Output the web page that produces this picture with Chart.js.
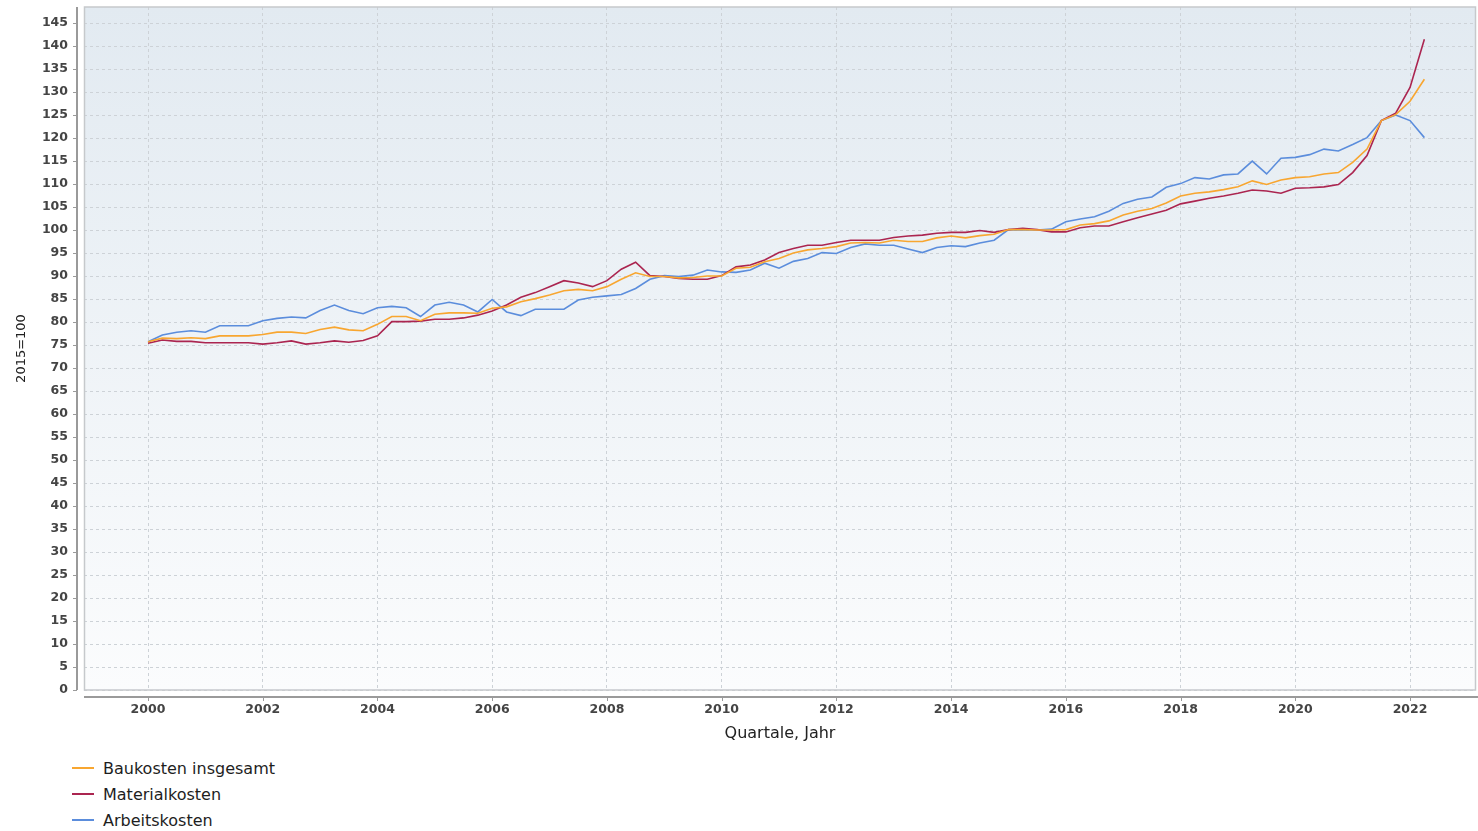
<!DOCTYPE html>
<html lang="de">
<head>
<meta charset="utf-8">
<title>Baukostenindex</title>
<script src="https://cdn.jsdelivr.net/npm/chart.js@4.4.1/dist/chart.umd.min.js"></script>
<style>
    html, body { margin: 0; padding: 0; background: #fff; }
    #wrap { position: relative; width: 1478px; height: 831px; }
    #chart { position: absolute; left: 0; top: 0; }
    #legend { position: absolute; left: 72px; top: 755px; font: 16px 'DejaVu Sans', sans-serif; color: #1e1e1e; }
    .item { height: 26px; display: flex; align-items: center; }
    .swatch { width: 22px; height: 2px; margin-right: 9px; }
</style>
</head>
<body>
<div id="wrap">
    <canvas id="chart" width="1478" height="755"></canvas>
    <div id="legend"></div>
</div>
<script>
// quarterly values, 2000 Q1 .. 2022 Q2, index 2015 = 100
const firstYear = 2000;

const baukosten = [
    75.7, 76.5, 76.4, 76.6, 76.4, 77.0, 77.0, 77.0, 77.3, 77.8, 77.8, 77.5, 78.4, 78.9, 78.3, 78.1,
    79.5, 81.2, 81.2, 80.3, 81.7, 82.0, 82.0, 81.9, 83.0, 83.3, 84.4, 85.1, 85.9, 86.8, 87.1,
    86.8, 87.7, 89.3, 90.7, 89.9, 89.9, 89.6, 89.7, 90.0, 90.0, 91.7, 91.9, 93.1, 93.8, 95.0,
    95.7, 96.0, 96.4, 97.2, 97.3, 97.2, 97.8, 97.5, 97.5, 98.3, 98.7, 98.3, 98.8, 99.1,
    100.1, 100.1, 100.0, 100.0, 100.1, 101.1, 101.4, 102.0, 103.3, 104.1, 104.7, 105.9, 107.4, 108.0, 108.3,
    108.8, 109.4, 110.7, 109.9, 110.9, 111.4, 111.6, 112.2, 112.5, 114.7, 117.6, 123.8, 125.1, 128.0, 132.8
];

const materialkosten = [
    75.4, 76.1, 75.8, 75.8, 75.5, 75.5, 75.5, 75.5, 75.2, 75.5, 75.9, 75.2, 75.5, 75.9, 75.6, 76.0,
    77.0, 80.1, 80.1, 80.2, 80.6, 80.6, 80.9, 81.5, 82.4, 83.7, 85.4, 86.4, 87.7, 89.0, 88.5,
    87.7, 89.0, 91.5, 93.0, 90.1, 89.9, 89.5, 89.3, 89.3, 90.1, 92.0, 92.4, 93.5, 95.1, 96.0,
    96.7, 96.7, 97.3, 97.8, 97.8, 97.8, 98.4, 98.7, 98.9, 99.3, 99.5, 99.5, 99.9, 99.5,
    100.1, 100.4, 100.1, 99.6, 99.6, 100.5, 100.9, 100.9, 101.8, 102.7, 103.5, 104.3, 105.7, 106.3, 106.9,
    107.4, 108.0, 108.7, 108.5, 108.0, 109.1, 109.2, 109.4, 109.9, 112.5, 116.2, 123.8, 125.4, 131.0, 141.5
];

const arbeitskosten = [
    75.7, 77.2, 77.8, 78.1, 77.8, 79.2, 79.2, 79.2, 80.3, 80.8, 81.1, 80.9, 82.5, 83.7, 82.5, 81.8,
    83.1, 83.4, 83.1, 81.2, 83.7, 84.3, 83.7, 82.2, 84.9, 82.2, 81.4, 82.8, 82.8, 82.8, 84.8,
    85.4, 85.7, 86.0, 87.3, 89.3, 90.1, 89.9, 90.2, 91.3, 90.9, 90.8, 91.3, 92.8, 91.7, 93.2,
    93.8, 95.1, 94.9, 96.2, 97.0, 96.7, 96.7, 95.9, 95.1, 96.2, 96.6, 96.4, 97.2, 97.8,
    100.1, 100.0, 100.0, 100.2, 101.8, 102.4, 102.9, 104.1, 105.8, 106.7, 107.2, 109.3, 110.1, 111.4, 111.1,
    112.0, 112.2, 115.0, 112.2, 115.6, 115.8, 116.4, 117.6, 117.2, 118.6, 120.1, 123.8, 125.0, 123.8, 120.1
];

const seriesNames = ['Baukosten insgesamt', 'Materialkosten', 'Arbeitskosten'];
const seriesColors = ['#f8a630', '#ab2550', '#5b8ddc'];

const xTickYears = [2000, 2002, 2004, 2006, 2008, 2010, 2012, 2014, 2016, 2018, 2020, 2022];
const yTickValues = [0, 5, 10, 15, 20, 25, 30, 35, 40, 45, 50, 55, 60, 65, 70, 75, 80, 85, 90, 95,
    100, 105, 110, 115, 120, 125, 130, 135, 140, 145];

const fontFamily = "'DejaVu Sans', sans-serif";

function toPoints(values) {
    return values.map((v, i) => ({ x: firstYear + i / 4, y: v }));
}

const frame = {
    id: 'frame',
    beforeDraw(chart) {
        const ctx = chart.ctx;
        const a = chart.chartArea;
        const g = ctx.createLinearGradient(0, a.top, 0, a.bottom);
        g.addColorStop(0, '#e2eaf1');
        g.addColorStop(1, '#fbfcfd');
        ctx.save();
        ctx.fillStyle = g;
        ctx.fillRect(a.left, a.top, a.right - a.left, a.bottom - a.top);
        ctx.restore();
    },
    afterDraw(chart) {
        const ctx = chart.ctx;
        const a = chart.chartArea;
        const xs = chart.scales.x;
        const ys = chart.scales.y;
        ctx.save();
        // plot border
        ctx.strokeStyle = '#c6c9cc';
        ctx.lineWidth = 1.5;
        ctx.strokeRect(a.left + 0.5, a.top, a.right - a.left - 1, a.bottom - a.top);
        // offset axis lines
        ctx.strokeStyle = '#9a9a9a';
        ctx.lineWidth = 2;
        ctx.beginPath();
        ctx.moveTo(a.left - 7, a.top);
        ctx.lineTo(a.left - 7, a.bottom);
        ctx.moveTo(a.left, a.bottom + 7);
        ctx.lineTo(chart.width, a.bottom + 7);
        ctx.stroke();
        // tick marks
        ctx.lineWidth = 1;
        ctx.beginPath();
        yTickValues.forEach((v) => {
            const y = Math.round(ys.getPixelForValue(v)) + 0.5;
            ctx.moveTo(a.left - 11, y);
            ctx.lineTo(a.left - 7, y);
        });
        xTickYears.forEach((v) => {
            const x = Math.round(xs.getPixelForValue(v)) + 0.5;
            ctx.moveTo(x, a.bottom + 7);
            ctx.lineTo(x, a.bottom + 11);
        });
        ctx.stroke();
        ctx.restore();
    }
};

const datasets = [baukosten, materialkosten, arbeitskosten].map((values, i) => ({
    label: seriesNames[i],
    data: toPoints(values),
    borderColor: seriesColors[i],
    backgroundColor: seriesColors[i],
    borderWidth: 1.6,
    pointRadius: 0,
    tension: 0,
    fill: false
}));

const chart = new Chart(document.getElementById('chart'), {
    type: 'line',
    data: { datasets: datasets },
    plugins: [frame],
    options: {
        responsive: false,
        animation: false,
        events: [],
        layout: { padding: { top: 7, right: 2, left: 0, bottom: 0 } },
        plugins: {
            legend: { display: false },
            tooltip: { enabled: false }
        },
        scales: {
            x: {
                type: 'linear',
                min: 1998.884,
                max: 2023.15,
                afterBuildTicks: (scale) => { scale.ticks = xTickYears.map((v) => ({ value: v })); },
                afterFit: (scale) => {
                    scale.height = 65;
                    scale.paddingLeft = 0;
                    scale.paddingRight = 0;
                },
                grid: { color: '#cdd2d7', lineWidth: 1, drawTicks: false },
                border: { display: false, dash: [3, 3] },
                ticks: {
                    padding: 12,
                    maxRotation: 0,
                    color: '#444',
                    font: { family: fontFamily, size: 12.5, weight: 'bold' },
                    callback: (v) => String(v)
                },
                title: {
                    display: true,
                    text: 'Quartale, Jahr',
                    color: '#222',
                    font: { family: fontFamily, size: 16 },
                    padding: { top: 0, bottom: 12 }
                }
            },
            y: {
                min: 0,
                max: 148.5,
                afterBuildTicks: (scale) => { scale.ticks = yTickValues.map((v) => ({ value: v })); },
                afterFit: (scale) => {
                    scale.width = 84;
                    scale.paddingTop = 0;
                    scale.paddingBottom = 0;
                },
                grid: { color: '#cdd2d7', lineWidth: 1, drawTicks: false },
                border: { display: false, dash: [3, 3] },
                ticks: {
                    padding: 16,
                    color: '#444',
                    font: { family: fontFamily, size: 12.5, weight: 'bold' }
                },
                title: {
                    display: true,
                    text: '2015=100',
                    color: '#222',
                    font: { family: fontFamily, size: 13 },
                    padding: { top: 14, bottom: 0 }
                }
            }
        }
    }
});

const legendBox = document.getElementById('legend');
chart.data.datasets.forEach((ds) => {
    const item = document.createElement('div');
    item.className = 'item';
    const sw = document.createElement('span');
    sw.className = 'swatch';
    sw.style.background = ds.borderColor;
    const txt = document.createElement('span');
    txt.textContent = ds.label;
    item.appendChild(sw);
    item.appendChild(txt);
    legendBox.appendChild(item);
});
</script>
</body>
</html>
